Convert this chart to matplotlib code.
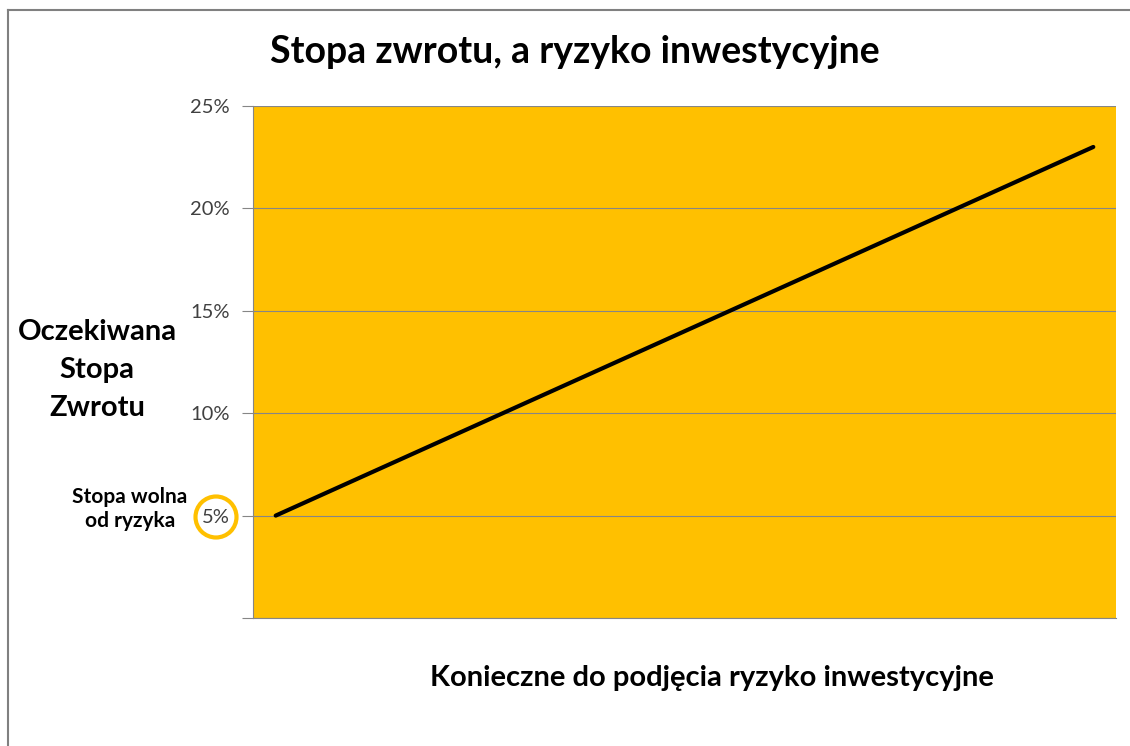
import matplotlib
matplotlib.use("Agg")
import matplotlib.pyplot as plt
from matplotlib.lines import Line2D
from matplotlib.patches import Ellipse

# Data
risk_steps = list(range(1, 20))
expected_return = [5, 6, 7, 8, 9, 10, 11, 12, 13, 14, 15, 16, 17, 18, 19, 20, 21, 22, 23]
y_ticks = [0, 5, 10, 15, 20, 25]
y_tick_labels = ["", "5%", "10%", "15%", "20%", "25%"]

title = "Stopa zwrotu, a ryzyko inwestycyjne"
x_label = "Konieczne do podjęcia ryzyko inwestycyjne"
y_label = "Oczekiwana\nStopa\nZwrotu"
rf_label = "Stopa wolna\nod ryzyka"

plt.rcParams['font.family'] = ['Lato', 'DejaVu Sans']

W, H = 1130, 746
fig = plt.figure(figsize=(W / 100, H / 100), dpi=100)
fig.patch.set_facecolor("white")

ax = fig.add_axes([253 / W, 1 - 618 / H, (1116 - 253) / W, (618 - 106) / H])
ax.set_facecolor("#FFC000")
ax.plot(risk_steps, expected_return, color="black", lw=3, solid_capstyle="round", zorder=3)
ax.set_xlim(0.5, 19.5)
ax.set_ylim(0, 25)
ax.set_yticks(y_ticks)
ax.set_yticklabels(y_tick_labels, fontsize=14.5, color="#404040")
ax.tick_params(axis="y", length=8, width=0.8, color="#868686", pad=9)
ax.set_xticks([])
ax.grid(axis="y", color="#868686", lw=0.8, zorder=1)
ax.set_axisbelow(True)
for s in ["top", "right"]:
    ax.spines[s].set_visible(False)
for s in ["left", "bottom"]:
    ax.spines[s].set_color("#868686")
    ax.spines[s].set_linewidth(0.8)

def fx(px):
    return px / W

def fy(py):
    return 1 - py / H

fig.text(fx(575), fy(52), title, ha="center", va="center", fontsize=27, fontweight="bold")
fig.text(fx(712), fy(678), x_label, ha="center", va="center", fontsize=21, fontweight="bold")
fig.text(fx(97), fy(370), y_label, ha="center", va="center", fontsize=21, fontweight="bold",
         linespacing=1.58)
fig.text(fx(130), fy(509), rf_label, ha="center", va="center", fontsize=15, fontweight="bold",
         linespacing=1.2)

# circle around 5%
fig.add_artist(Ellipse((fx(216), fy(517)), 41 / W, 41 / H, transform=fig.transFigure,
                       fill=False, edgecolor="#FFC000", lw=3))

# outer frame (top and left)
fig.add_artist(Line2D([fx(8), 1], [fy(10), fy(10)], transform=fig.transFigure,
                      color="#808080", lw=1.5))
fig.add_artist(Line2D([fx(8), fx(8)], [fy(10), 0], transform=fig.transFigure,
                      color="#808080", lw=1.5))

fig.savefig("out.png", dpi=100)
